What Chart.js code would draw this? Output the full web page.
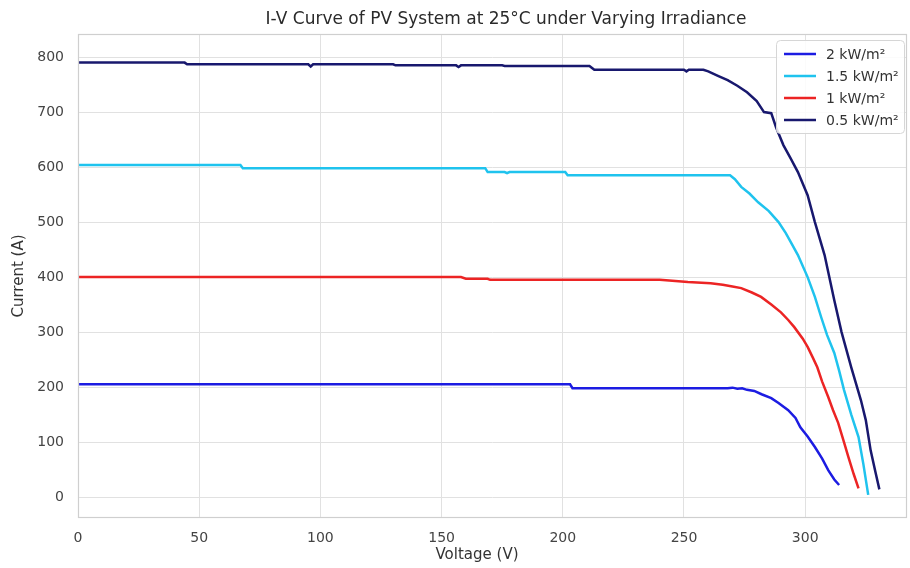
<!DOCTYPE html>
<html>
<head>
<meta charset="utf-8">
<script src="https://cdn.jsdelivr.net/npm/chart.js@4/dist/chart.umd.min.js"></script>
<style>
  html, body { margin: 0; padding: 0; background: #fff; }
  #wrap { width: 910px; height: 568px; }
</style>
</head>
<body>
<div id="wrap"><canvas id="iv"></canvas></div>
<script>
// series labels as printed in the legend
const labels = ['2 kW/m²', '1.5 kW/m²', '1 kW/m²', '0.5 kW/m²'];
const colors = ['#1c1ce2', '#1fc3ee', '#ec2424', '#18186e'];

// voltage (V) / current (A)
const v2 = [0, 203, 204, 268, 270, 272, 274, 276, 279, 282, 286, 289, 293, 296, 298, 301, 304, 307, 309.5, 312, 314];
const i2 = [205, 205, 198, 198, 199, 197, 198, 195, 193, 187, 180, 171, 158, 144, 127, 110, 91, 70, 49, 32, 22];

const v15 = [0, 67, 68, 168, 169, 176, 177, 178, 201, 202, 269, 271, 273.6, 277, 280.6, 285, 289, 292, 294, 297, 301, 304, 306.6, 309, 312, 314, 316, 319, 322, 324, 326];
const i15 = [604, 604, 598, 598, 591, 591, 589, 591, 591, 585, 585, 578, 564, 552, 536, 520, 500, 480, 464, 440, 400, 364, 327, 295, 262, 230, 195, 150, 109, 60, 4];

const v1 = [0, 158, 160, 169, 170, 240, 251.6, 261, 266, 270, 273.6, 278, 281.8, 286, 290, 293, 295.5, 299, 301, 303, 305, 307, 309.5, 311.5, 313.6, 316, 317.8, 320, 322];
const i1 = [400, 400, 397, 397, 395, 395, 391, 389, 386, 383, 380, 372, 364, 350, 336, 322, 309, 288, 273, 255, 236, 210, 182, 158, 135, 100, 73, 42, 16];

const v05 = [0, 44, 45, 95, 96, 97, 130, 131, 156, 157, 158, 175, 176, 211, 213, 250, 251, 252, 258, 260, 264, 268, 272, 276, 280, 283, 286, 288, 291, 294, 297, 301, 304, 308, 312, 315, 319, 323, 325, 327, 329, 330.6];
const i05 = [790, 790, 787, 787, 783, 787, 787, 785, 785, 782, 785, 785, 784, 784, 777, 777, 774, 777, 777, 774, 766, 758, 748, 736, 720, 700, 698, 672, 640, 616, 591, 549, 500, 440, 358, 300, 236, 176, 140, 85, 45, 14];

const xTicks = [0, 50, 100, 150, 200, 250, 300];
const yTicks = [0, 100, 200, 300, 400, 500, 600, 700, 800];

const voltages = [v2, v15, v1, v05];
const currents = [i2, i15, i1, i05];

const TITLE = 'I-V Curve of PV System at 25°C under Varying Irradiance';
const X_TITLE = 'Voltage (V)';
const FONT = "'DejaVu Sans', sans-serif";

function pts(vs, is) {
  return vs.map((v, k) => ({ x: v, y: is[k] }));
}

// title + x title placed by hand, grey frame on all four sides, boxed legend top right
const decor = {
  id: 'decor',
  afterDatasetsDraw(chart) {
    const { ctx, chartArea: a } = chart;
    ctx.save();
    ctx.strokeStyle = '#cfcfcf';
    ctx.lineWidth = 1.2;
    ctx.strokeRect(a.left + 0.5, a.top + 0.5, a.right - a.left - 1, a.bottom - a.top - 1);

    ctx.textAlign = 'center';
    ctx.textBaseline = 'middle';
    ctx.fillStyle = '#2a2a2a';
    ctx.font = '17px ' + FONT;
    ctx.fillText(TITLE, 506, 20);
    ctx.fillStyle = '#333';
    ctx.font = '15px ' + FONT;
    ctx.fillText(X_TITLE, 477, 555);

    const w = 128, rowH = 22, h = 93;
    const x0 = a.right - w - 3, y0 = a.top + 6;
    ctx.fillStyle = 'rgba(255,255,255,0.85)';
    ctx.strokeStyle = '#d6d6d6';
    ctx.lineWidth = 1;
    ctx.beginPath();
    ctx.roundRect(x0 + 0.5, y0 + 0.5, w, h, 4);
    ctx.fill();
    ctx.stroke();

    ctx.textAlign = 'left';
    ctx.font = '14px ' + FONT;
    chart.data.datasets.forEach((ds, k) => {
      const y = y0 + 14 + k * rowH;
      ctx.strokeStyle = ds.borderColor;
      ctx.lineWidth = 2.5;
      ctx.beginPath();
      ctx.moveTo(x0 + 8, y);
      ctx.lineTo(x0 + 40, y);
      ctx.stroke();
      ctx.fillStyle = '#333';
      ctx.fillText(ds.label, x0 + 50, y + 1);
    });
    ctx.restore();
  }
};

new Chart(document.getElementById('iv'), {
  type: 'scatter',
  data: {
    datasets: labels.map((lab, k) => ({
      label: lab,
      data: pts(voltages[k], currents[k]),
      showLine: true,
      borderColor: colors[k],
      backgroundColor: colors[k],
      borderWidth: 2.5,
      pointRadius: 0,
      tension: 0
    }))
  },
  options: {
    responsive: true,
    maintainAspectRatio: false,
    animation: false,
    layout: { padding: { left: 10, right: 3, top: 34, bottom: 4 } },
    plugins: {
      legend: { display: false },
      tooltip: { enabled: false },
      title: { display: false }
    },
    scales: {
      x: {
        type: 'linear',
        min: 0,
        max: 342,
        afterBuildTicks: s => { s.ticks = xTicks.map(v => ({ value: v })); },
        afterFit: s => { s.height = 46; },
        grid: { color: '#e1e1e1', lineWidth: 1, drawTicks: false },
        border: { display: false },
        ticks: { color: '#444', padding: 12, font: { family: FONT, size: 14 } }
      },
      y: {
        type: 'linear',
        min: -38,
        max: 842,
        afterBuildTicks: s => { s.ticks = yTicks.map(v => ({ value: v })); },
        afterFit: s => { s.width = 68; },
        grid: { color: '#e1e1e1', lineWidth: 1, drawTicks: false },
        border: { display: false },
        ticks: { color: '#444', padding: 14, font: { family: FONT, size: 14 } },
        title: {
          display: true,
          text: 'Current (A)',
          color: '#333',
          font: { family: FONT, size: 15 },
          padding: { top: 0, bottom: 4 }
        }
      }
    }
  },
  plugins: [decor]
});
</script>
</body>
</html>
